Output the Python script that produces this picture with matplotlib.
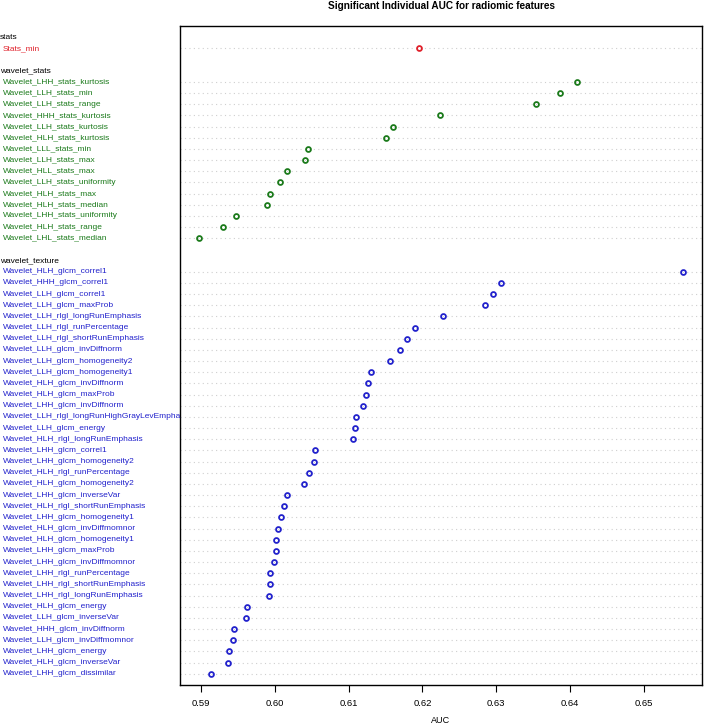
import matplotlib
matplotlib.use("Agg")
import matplotlib.pyplot as plt
import matplotlib.transforms as mtransforms

plt.rcParams['font.family'] = ['Liberation Sans', 'DejaVu Sans']

group_names = ["stats", "wavelet_stats", "wavelet_texture"]

stats_labels = ["Stats_min"]
stats_auc = [0.6196]

wstats_labels = [
    "Wavelet_LHH_stats_kurtosis", "Wavelet_LLH_stats_min", "Wavelet_LLH_stats_range",
    "Wavelet_HHH_stats_kurtosis", "Wavelet_LLH_stats_kurtosis", "Wavelet_HLH_stats_kurtosis",
    "Wavelet_LLL_stats_min", "Wavelet_LLH_stats_max", "Wavelet_HLL_stats_max",
    "Wavelet_LLH_stats_uniformity", "Wavelet_HLH_stats_max", "Wavelet_HLH_stats_median",
    "Wavelet_LHH_stats_uniformity", "Wavelet_HLH_stats_range", "Wavelet_LHL_stats_median",
]
wstats_auc = [0.6409, 0.6387, 0.6354, 0.6224, 0.6160, 0.6151, 0.6045, 0.6041, 0.6016,
              0.6007, 0.5993, 0.5989, 0.5947, 0.5930, 0.5897]

wtex_labels = [
    "Wavelet_HLH_glcm_correl1", "Wavelet_HHH_glcm_correl1", "Wavelet_LLH_glcm_correl1",
    "Wavelet_LLH_glcm_maxProb", "Wavelet_LLH_rlgl_longRunEmphasis", "Wavelet_LLH_rlgl_runPercentage",
    "Wavelet_LLH_rlgl_shortRunEmphasis", "Wavelet_LLH_glcm_invDiffnorm", "Wavelet_LLH_glcm_homogeneity2",
    "Wavelet_LLH_glcm_homogeneity1", "Wavelet_HLH_glcm_invDiffnorm", "Wavelet_HLH_glcm_maxProb",
    "Wavelet_LHH_glcm_invDiffnorm", "Wavelet_LLH_rlgl_longRunHighGrayLevEmpha", "Wavelet_LLH_glcm_energy",
    "Wavelet_HLH_rlgl_longRunEmphasis", "Wavelet_LHH_glcm_correl1", "Wavelet_LHH_glcm_homogeneity2",
    "Wavelet_HLH_rlgl_runPercentage", "Wavelet_HLH_glcm_homogeneity2", "Wavelet_LHH_glcm_inverseVar",
    "Wavelet_HLH_rlgl_shortRunEmphasis", "Wavelet_LHH_glcm_homogeneity1", "Wavelet_HLH_glcm_invDiffmomnor",
    "Wavelet_HLH_glcm_homogeneity1", "Wavelet_LHH_glcm_maxProb", "Wavelet_LHH_glcm_invDiffmomnor",
    "Wavelet_LHH_rlgl_runPercentage", "Wavelet_LHH_rlgl_shortRunEmphasis", "Wavelet_LHH_rlgl_longRunEmphasis",
    "Wavelet_HLH_glcm_energy", "Wavelet_LLH_glcm_inverseVar", "Wavelet_HHH_glcm_invDiffnorm",
    "Wavelet_LLH_glcm_invDiffmomnor", "Wavelet_LHH_glcm_energy", "Wavelet_HLH_glcm_inverseVar",
    "Wavelet_LHH_glcm_dissimilar",
]
wtex_auc = [0.6553, 0.6306, 0.6295, 0.6285, 0.6228, 0.6190, 0.6179, 0.6170, 0.6156,
            0.6131, 0.6126, 0.6124, 0.6119, 0.6110, 0.6109, 0.6106, 0.6055, 0.6053,
            0.6046, 0.6039, 0.6016, 0.6012, 0.6009, 0.6004, 0.6002, 0.6001, 0.5999,
            0.5994, 0.5993, 0.5992, 0.5962, 0.5961, 0.5945, 0.5943, 0.5938, 0.5937,
            0.5913]

x_ticks = [0.59, 0.60, 0.61, 0.62, 0.63, 0.64, 0.65]

groups = [(stats_labels, stats_auc, "#e0202a"),
          (wstats_labels, wstats_auc, "#1b7a1b"),
          (wtex_labels, wtex_auc, "#2222cc")]

W, H = 708, 726
fig = plt.figure(figsize=(W / 100, H / 100), dpi=100)
ax = fig.add_axes([180 / W, 1 - 685 / H, 522 / W, 659 / H])

# compute y positions (R dotchart style): bottom group first
ypos_groups = []
y = 0
header_pos = []
for labels, vals, col in reversed(groups):
    n = len(labels)
    ys = [y + n - i for i in range(n)]
    ypos_groups.insert(0, ys)
    header_pos.insert(0, y + n + 1)
    y = y + n + 2
top = header_pos[0] + 1

text_tr = mtransforms.blended_transform_factory(fig.transFigure, ax.transData)
fs = 6.05
for (labels, vals, col), ys, hy, gname in zip(groups, ypos_groups, header_pos, group_names):
    for yy in ys:
        ax.axhline(yy, color="#cfcfcf", lw=0.8, ls=(0, (1, 3)), zorder=1)
    ax.plot(vals, ys, ls="none", marker="o", ms=3.5, mfc="none", mec=col, mew=1.3, zorder=3)
    ax.text(0 / W, hy, gname, transform=text_tr, ha="left", va="center", fontsize=fs, color="black")
    for lab, yy in zip(labels, ys):
        ax.text(3 / W, yy, lab, transform=text_tr, ha="left", va="center", fontsize=fs, color=col)

ax.set_ylim(0, top)
ax.set_yticks([])
ax.set_xlim(0.58715, 0.65789)
ax.set_xticks(x_ticks)
ax.set_xticklabels([f"{t:.2f}" for t in x_ticks])
ax.tick_params(axis="x", labelsize=6.8, length=5, width=0.8, pad=5)
for s in ax.spines.values():
    s.set_linewidth(1.0)
ax.set_xlabel("AUC", fontsize=6.5, labelpad=6)
fig.text(442 / W, 1 - 6 / H, "Significant Individual AUC for radiomic features",
         ha="center", va="center", fontsize=7.2, fontweight="bold")

fig.savefig("out.png", dpi=100)
